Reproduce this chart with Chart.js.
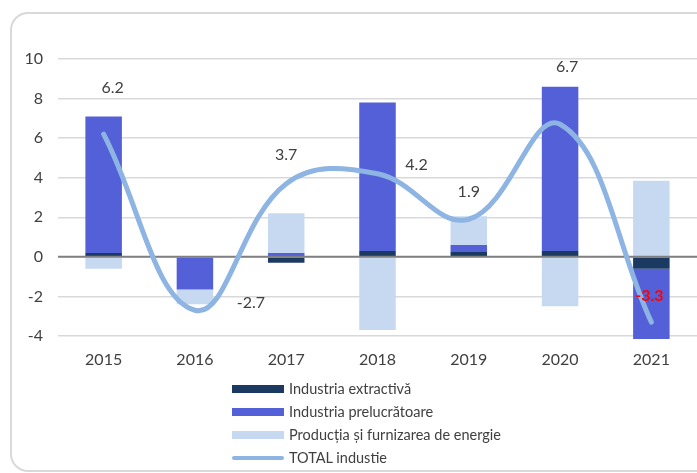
<!DOCTYPE html>
<html>
<head>
<meta charset="utf-8">
<script src="https://cdn.jsdelivr.net/npm/chart.js@4"></script>
<style>
  body { margin: 0; background: #fff; font-family: Lato, sans-serif; }
  #wrap { position: relative; width: 697px; height: 473px; overflow: hidden; }
  #frame { position: absolute; left: 10px; top: 12px; width: 720px; height: 456px;
           border: 2px solid #d9d9d9; border-radius: 18px; }
  #c { position: absolute; left: 0; top: 0; }
  #legend { position: absolute; left: 232px; top: 377px; font-size: 14.5px; color: #404040; }
  #legend .row { height: 23px; display: flex; align-items: center; }
  #legend .sw { width: 52px; height: 8px; margin-right: 5px; }
  #legend .ln { width: 52px; height: 4px; border-radius: 2px; margin-right: 5px; }
</style>
</head>
<body>
<div id="wrap">
  <div id="frame"></div>
  <canvas id="c" width="697" height="473"></canvas>
  <div id="legend"></div>
</div>
<script>
var years = ['2015', '2016', '2017', '2018', '2019', '2020', '2021'];
var extractiva = [0.2, -0.05, -0.3, 0.3, 0.25, 0.3, -0.6];
var prelucratoare = [6.9, -1.6, 0.2, 7.5, 0.35, 8.3, -3.55];
var energie = [-0.6, -0.75, 2.0, -3.7, 1.45, -2.5, 3.85];
var total = [6.2, -2.7, 3.7, 4.2, 1.9, 6.7, -3.3];
var yTicks = [10, 8, 6, 4, 2, 0, -2, -4];

// label offsets from the line points (px)
var labelOffsets = [[9, -46], [56, -7], [0, -29], [39, -9], [0, -27], [7, -57], [-2, -26]];

var textColor = '#404040';

var zeroLine = {
  id: 'zeroLine',
  afterDatasetDraw: function (chart, args) {
    if (args.meta.type !== 'bar' || args.index !== 0) return;
    var y = chart.scales.y.getPixelForValue(0);
    var ctx = chart.ctx;
    ctx.save();
    ctx.strokeStyle = '#808080';
    ctx.lineWidth = 2;
    ctx.beginPath();
    ctx.moveTo(chart.chartArea.left, y);
    ctx.lineTo(chart.chartArea.right, y);
    ctx.stroke();
    ctx.restore();
  }
};

var totalLabels = {
  id: 'totalLabels',
  afterDatasetsDraw: function (chart) {
    var meta = chart.getDatasetMeta(3);
    var ctx = chart.ctx;
    ctx.save();
    ctx.textAlign = 'center';
    ctx.textBaseline = 'middle';
    meta.data.forEach(function (pt, i) {
      var last = i === total.length - 1;
      ctx.font = (last ? 'bold ' : '') + '16px Lato';
      ctx.fillStyle = last ? '#ff0000' : textColor;
      ctx.fillText(total[i].toFixed(1), pt.x + labelOffsets[i][0], pt.y + labelOffsets[i][1]);
    });
    ctx.restore();
  }
};

var chart = new Chart(document.getElementById('c'), {
  data: {
    labels: years,
    datasets: [
      { type: 'bar', label: 'Industria extractivă', data: extractiva, backgroundColor: '#1b3a62', order: 1, clip: false },
      { type: 'bar', label: 'Industria prelucrătoare', data: prelucratoare, backgroundColor: '#5360d8', order: 1, clip: false },
      { type: 'bar', label: 'Producția și furnizarea de energie', data: energie, backgroundColor: '#c6d9f0', order: 1, clip: false },
      { type: 'line', label: 'TOTAL industie', data: total, borderColor: '#8db4e2', borderWidth: 5,
        borderCapStyle: 'round', pointRadius: 0, tension: 0.4, stack: 'total', order: 0, fill: false, clip: false }
    ]
  },
  options: {
    responsive: false,
    animation: false,
    datasets: { bar: { barPercentage: 1, categoryPercentage: 0.4 } },
    layout: { padding: { left: 10, right: 0, top: 59, bottom: 97 } },
    plugins: { legend: { display: false }, tooltip: { enabled: false } },
    scales: {
      x: {
        stacked: true,
        grid: { display: false, drawTicks: false },
        border: { display: false },
        ticks: { color: textColor, font: { family: 'Lato', size: 16 }, padding: 14 },
        afterFit: function (s) { s.height = 40; }
      },
      y: {
        stacked: true,
        min: -4, max: 10,
        afterBuildTicks: function (s) { s.ticks = yTicks.map(function (v) { return { value: v }; }); },
        grid: { color: '#d9d9d9', lineWidth: 1.5, drawTicks: false },
        border: { display: false },
        ticks: { color: textColor, font: { family: 'Lato', size: 16 }, padding: 15 },
        afterFit: function (s) { s.width = 48; }
      }
    }
  },
  plugins: [zeroLine, totalLabels]
});

// legend rows built from the datasets
var legend = document.getElementById('legend');
chart.data.datasets.forEach(function (ds) {
  var row = document.createElement('div');
  row.className = 'row';
  var sw = document.createElement('span');
  if (ds.type === 'line') { sw.className = 'ln'; sw.style.background = ds.borderColor; }
  else { sw.className = 'sw'; sw.style.background = ds.backgroundColor; }
  row.appendChild(sw);
  row.appendChild(document.createTextNode(ds.label));
  legend.appendChild(row);
});
</script>
</body>
</html>
